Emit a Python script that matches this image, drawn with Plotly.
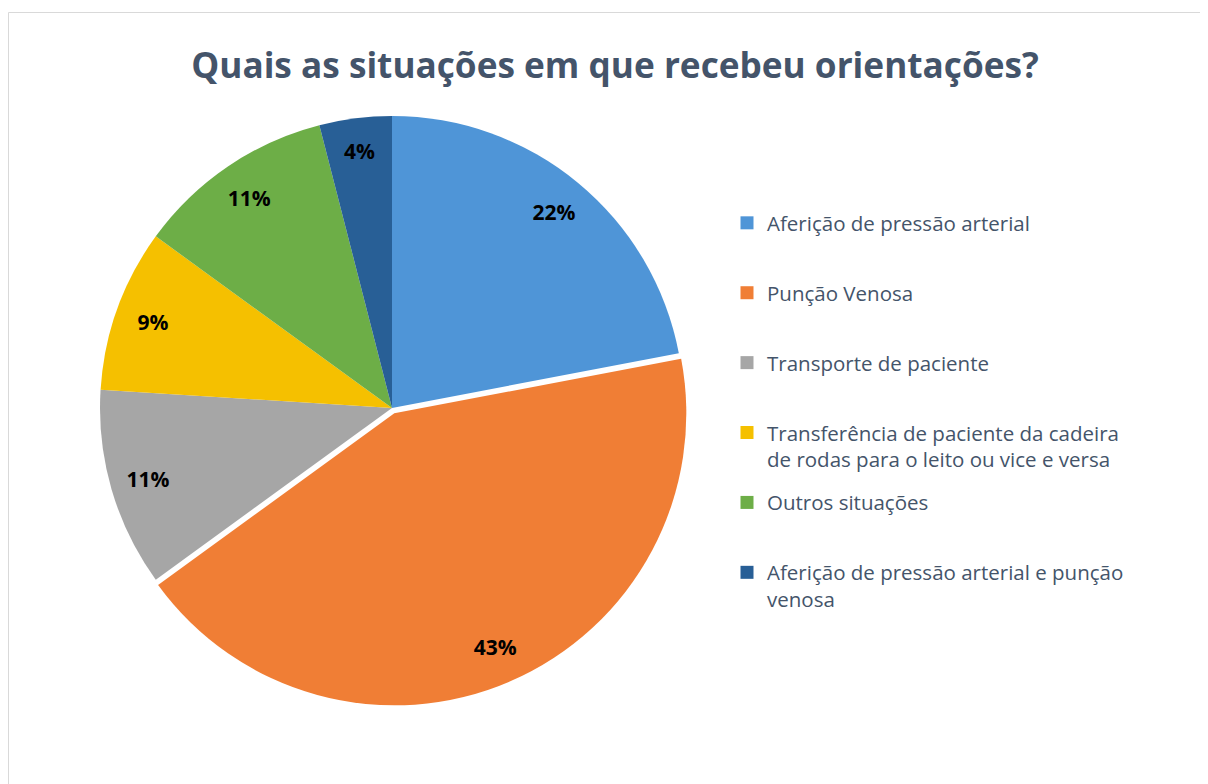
import plotly.graph_objects as go

labels = [
    "Aferição de pressão arterial",
    "Punção Venosa",
    "Transporte de paciente",
    "Transferência de paciente da cadeira<br>de rodas para o leito ou vice e versa",
    "Outros situações",
    "Aferição de pressão arterial e punção<br>venosa",
]
values = [22, 43, 11, 9, 11, 4]
colors = ["#4F95D7", "#F07E35", "#A6A6A6", "#F5C000", "#6DAE47", "#285F96"]
pulls = [0, 0.02, 0, 0, 0, 0]

W, H = 1200, 776          # page body adds an 8px offset
cx, cy, r = 384, 400, 292
half = r * (1 + max(pulls))
dom_x = [(cx - half) / W, (cx + half) / W]
dom_y = [1 - (cy + half) / H, 1 - (cy - half) / H]

fig = go.Figure()
fig.add_trace(go.Pie(
    labels=labels,
    values=values,
    sort=False,
    direction="clockwise",
    rotation=0,
    pull=pulls,
    marker=dict(colors=colors, line=dict(color="white", width=0)),
    textinfo="none",
    domain=dict(x=dom_x, y=dom_y),
    showlegend=False,
    hoverinfo="label+percent",
))
# transparent ring carrying the percentage labels near the rim
fig.add_trace(go.Pie(
    labels=labels,
    values=values,
    sort=False,
    direction="clockwise",
    rotation=0,
    pull=pulls,
    hole=0.74,
    marker=dict(colors=["rgba(0,0,0,0)"] * len(values), line=dict(width=0)),
    texttemplate="%{percent:.0%}",
    textposition="inside",
    insidetextorientation="horizontal",
    textfont=dict(family="Open Sans", size=21, color="black", weight="bold"),
    domain=dict(x=dom_x, y=dom_y),
    showlegend=False,
    hoverinfo="skip",
))

# legend entries (one group per category, padded to two lines for even spacing)
for i, (lbl, col) in enumerate(zip(labels, colors)):
    name = lbl if "<br>" in lbl else lbl + "<br> "
    fig.add_trace(go.Scatter(
        x=[None], y=[None], mode="markers",
        marker=dict(symbol="square", size=13, color=col),
        name=name, legendgroup=str(i), showlegend=True,
        hoverinfo="skip",
    ))

fig.update_layout(
    width=W, height=H,
    margin=dict(l=0, r=0, t=0, b=0),
    paper_bgcolor="white",
    plot_bgcolor="white",
    xaxis=dict(visible=False),
    yaxis=dict(visible=False),
    title=dict(
        text="<b>Quais as situações em que recebeu orientações?</b>",
        x=607 / W, xanchor="center",
        y=1 - 58 / H, yanchor="middle",
        font=dict(family="Open Sans", size=35.2, color="#44546A"),
    ),
    legend=dict(
        x=719 / W, xanchor="left",
        y=1 - 195 / H, yanchor="top",
        valign="top",
        traceorder="grouped",
        tracegroupgap=13.6,
        font=dict(family="Open Sans", size=20.5, color="#44546A"),
        bgcolor="rgba(0,0,0,0)",
    ),
    shapes=[dict(
        type="rect", xref="paper", yref="paper",
        x0=0.5 / W, x1=1.05, y0=-0.05, y1=1 - 4.5 / H,
        line=dict(color="#D9D9D9", width=1),
        fillcolor="rgba(0,0,0,0)", layer="below",
    )],
)

fig.write_html("out.html")
